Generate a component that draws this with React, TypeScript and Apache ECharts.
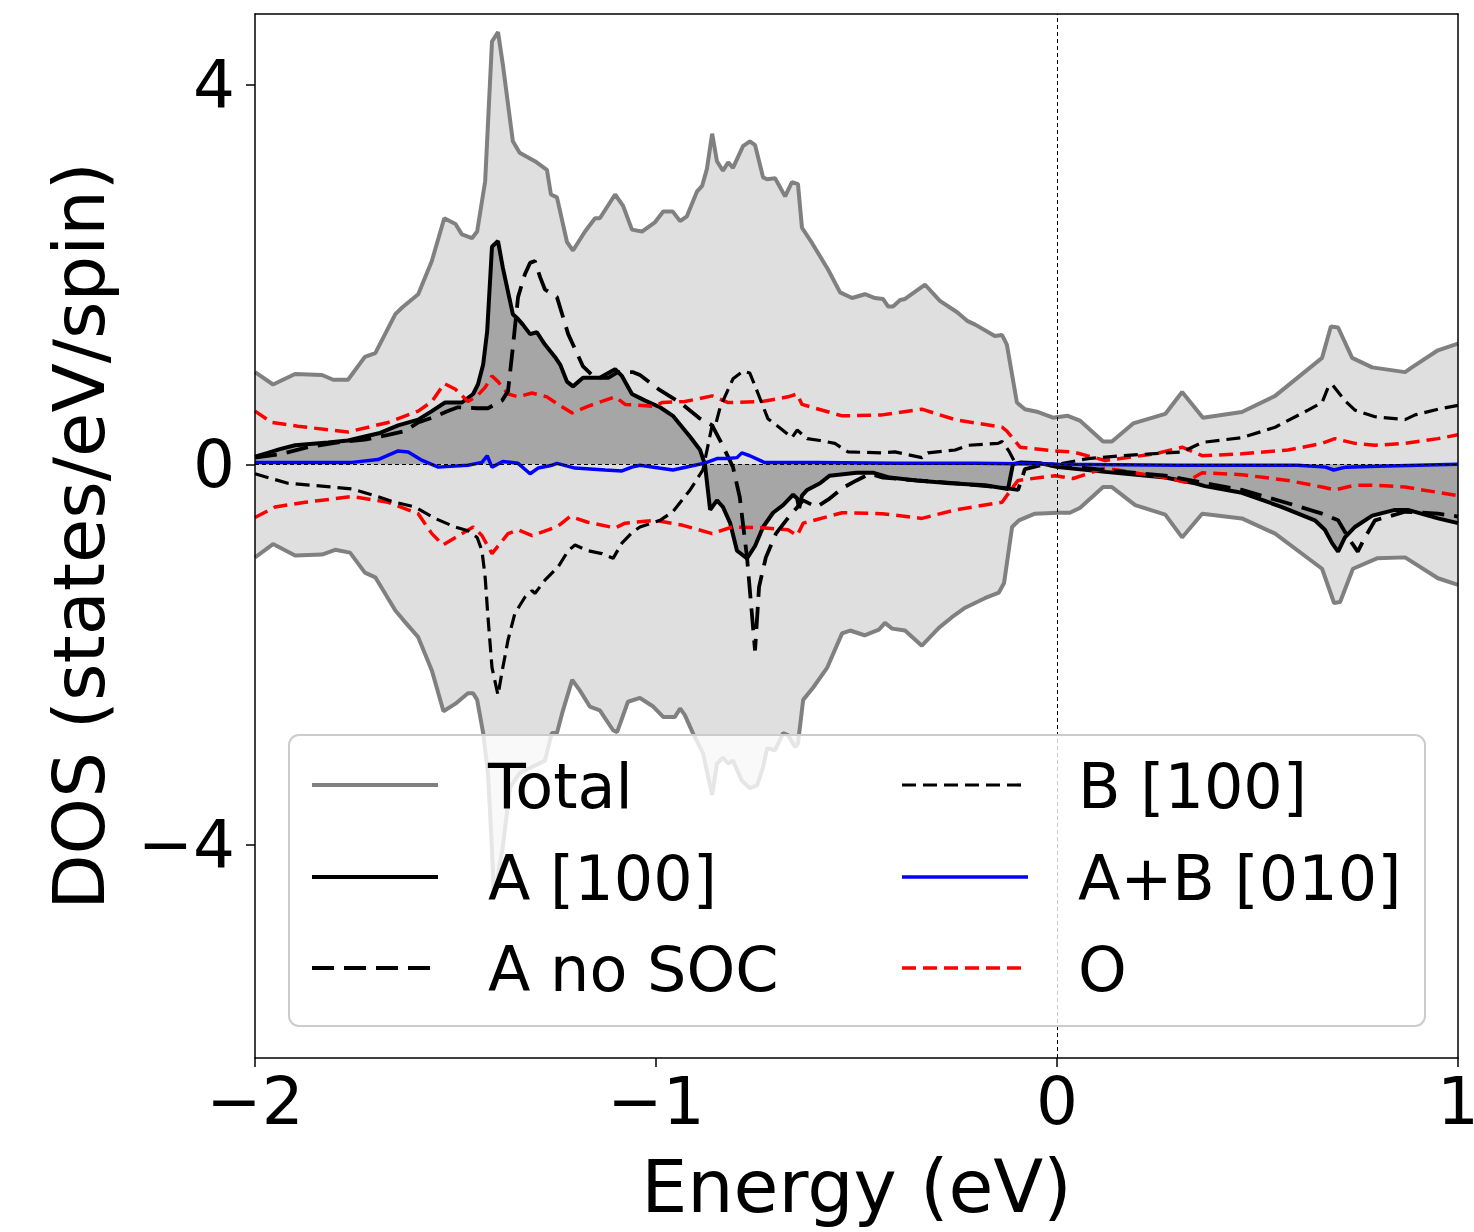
import React, { useEffect, useRef } from "react";
import * as echarts from "echarts";

// [energy (eV), DOS (states/eV/spin)]
const totalUp: [number, number][] = [
  [-2.0, 0.97], [-1.955, 0.84], [-1.9, 0.95], [-1.833, 0.94], [-1.805, 0.89], [-1.768, 0.89], [-1.726, 1.13], [-1.7, 1.17],
  [-1.65, 1.58], [-1.633, 1.65], [-1.593, 1.79], [-1.559, 2.14], [-1.528, 2.59], [-1.5, 2.53], [-1.484, 2.42], [-1.459, 2.38],
  [-1.446, 2.45], [-1.426, 2.98], [-1.409, 4.45], [-1.394, 4.55], [-1.382, 4.21], [-1.357, 3.4], [-1.34, 3.28], [-1.302, 3.19],
  [-1.272, 3.1], [-1.262, 2.84], [-1.247, 2.81], [-1.222, 2.34], [-1.207, 2.25], [-1.177, 2.45], [-1.152, 2.59], [-1.14, 2.59],
  [-1.102, 2.84], [-1.082, 2.72], [-1.06, 2.47], [-1.035, 2.45], [-1.002, 2.55], [-0.982, 2.66], [-0.958, 2.66], [-0.94, 2.56],
  [-0.923, 2.61], [-0.898, 2.87], [-0.885, 2.93], [-0.873, 3.11], [-0.86, 3.48], [-0.848, 3.19], [-0.833, 3.09], [-0.82, 3.18],
  [-0.808, 3.12], [-0.783, 3.35], [-0.766, 3.4], [-0.753, 3.36], [-0.733, 3.02], [-0.723, 3.0], [-0.703, 3.01], [-0.678, 2.82],
  [-0.661, 2.97], [-0.646, 2.95], [-0.636, 2.49], [-0.611, 2.33], [-0.571, 2.05], [-0.541, 1.81], [-0.511, 1.75], [-0.479, 1.79],
  [-0.454, 1.75], [-0.434, 1.74], [-0.421, 1.66], [-0.409, 1.66], [-0.391, 1.73], [-0.379, 1.74], [-0.329, 1.89], [-0.292, 1.72],
  [-0.249, 1.6], [-0.224, 1.51], [-0.204, 1.47], [-0.155, 1.35], [-0.137, 1.36], [-0.125, 1.26], [-0.1, 0.65], [-0.08, 0.58],
  [-0.047, 0.55], [-0.01, 0.49], [0.027, 0.51], [0.057, 0.46], [0.115, 0.24], [0.137, 0.24], [0.19, 0.43], [0.27, 0.53],
  [0.312, 0.76], [0.364, 0.49], [0.461, 0.55], [0.544, 0.72], [0.661, 1.12], [0.683, 1.45], [0.701, 1.44], [0.736, 1.12],
  [0.786, 1.02], [0.868, 0.97], [0.885, 1.02], [0.95, 1.2], [1.0, 1.27],
];

const totalDown: [number, number][] = [
  [-2.0, -0.98], [-1.955, -0.84], [-1.9, -0.96], [-1.833, -0.95], [-1.8, -0.9], [-1.763, -0.93], [-1.726, -1.14], [-1.7, -1.19],
  [-1.65, -1.54], [-1.63, -1.64], [-1.593, -1.82], [-1.559, -2.17], [-1.53, -2.6], [-1.5, -2.52], [-1.469, -2.41], [-1.456, -2.41],
  [-1.446, -2.48], [-1.431, -2.83], [-1.419, -3.25], [-1.409, -4.06], [-1.404, -4.56], [-1.382, -4.03], [-1.364, -3.4], [-1.34, -3.25],
  [-1.277, -3.12], [-1.26, -2.83], [-1.247, -2.83], [-1.234, -2.62], [-1.209, -2.27], [-1.19, -2.38], [-1.165, -2.55], [-1.14, -2.59],
  [-1.107, -2.8], [-1.097, -2.82], [-1.07, -2.5], [-1.04, -2.46], [-1.007, -2.55], [-0.982, -2.66], [-0.953, -2.66], [-0.94, -2.57],
  [-0.928, -2.64], [-0.908, -2.83], [-0.883, -3.04], [-0.86, -3.48], [-0.848, -3.15], [-0.833, -3.09], [-0.82, -3.15], [-0.808, -3.12],
  [-0.786, -3.33], [-0.766, -3.41], [-0.748, -3.38], [-0.733, -3.19], [-0.723, -2.99], [-0.703, -3.01], [-0.683, -2.83], [-0.671, -2.85],
  [-0.653, -2.98], [-0.646, -2.94], [-0.633, -2.48], [-0.608, -2.35], [-0.573, -2.14], [-0.536, -1.78], [-0.516, -1.75], [-0.48, -1.8],
  [-0.444, -1.74], [-0.429, -1.67], [-0.411, -1.73], [-0.379, -1.75], [-0.337, -1.91], [-0.294, -1.72], [-0.262, -1.61], [-0.229, -1.51],
  [-0.18, -1.41], [-0.145, -1.35], [-0.132, -1.25], [-0.112, -0.66], [-0.095, -0.59], [-0.055, -0.52], [0.002, -0.51], [0.032, -0.51],
  [0.057, -0.46], [0.115, -0.24], [0.137, -0.24], [0.195, -0.43], [0.27, -0.53], [0.312, -0.77], [0.362, -0.52], [0.461, -0.57],
  [0.544, -0.73], [0.661, -1.1], [0.691, -1.46], [0.706, -1.45], [0.738, -1.1], [0.798, -0.99], [0.868, -0.98], [0.95, -1.2], [1.0, -1.27],
];

const aSoc100: [number, number][] = [
  [-2.0, 0.08], [-1.968, 0.12], [-1.938, 0.16], [-1.9, 0.2], [-1.818, 0.23], [-1.768, 0.25], [-1.718, 0.3], [-1.688, 0.33],
  [-1.643, 0.41], [-1.593, 0.47], [-1.559, 0.56], [-1.526, 0.65], [-1.484, 0.65], [-1.456, 0.74], [-1.444, 0.84], [-1.431, 1.05],
  [-1.421, 1.4], [-1.409, 2.29], [-1.394, 2.35], [-1.382, 2.07], [-1.357, 1.58], [-1.344, 1.53], [-1.332, 1.47], [-1.314, 1.37],
  [-1.297, 1.39], [-1.277, 1.26], [-1.252, 1.13], [-1.239, 1.05], [-1.222, 0.87], [-1.207, 0.82], [-1.182, 0.91], [-1.14, 0.91],
  [-1.102, 1.0], [-1.085, 0.93], [-1.06, 0.74], [-1.027, 0.67], [-0.99, 0.6], [-0.958, 0.51], [-0.915, 0.29], [-0.89, 0.15],
  [-0.878, 0.0], [-0.865, -0.48], [-0.848, -0.38], [-0.833, -0.45], [-0.815, -0.62], [-0.798, -0.91], [-0.773, -0.99], [-0.753, -0.86],
  [-0.733, -0.66], [-0.708, -0.51], [-0.683, -0.43], [-0.658, -0.32], [-0.648, -0.36], [-0.643, -0.46], [-0.636, -0.33], [-0.623, -0.27],
  [-0.591, -0.2], [-0.567, -0.12], [-0.5, -0.09], [-0.457, -0.09], [-0.417, -0.14], [-0.35, -0.17], [-0.267, -0.2], [-0.18, -0.22],
  [-0.137, -0.25], [-0.122, -0.26], [-0.11, 0.0], [-0.09, 0.02], [-0.04, 0.01], [0.002, -0.03], [0.12, -0.08], [0.27, -0.14],
  [0.344, -0.2], [0.369, -0.23], [0.461, -0.3], [0.561, -0.45], [0.643, -0.59], [0.668, -0.69], [0.686, -0.83], [0.701, -0.92],
  [0.718, -0.77], [0.743, -0.66], [0.786, -0.54], [0.843, -0.48], [0.875, -0.48], [0.95, -0.57], [1.0, -0.62],
];

const aNoSoc: [number, number][] = [
  [-2.0, 0.07], [-1.933, 0.11], [-1.868, 0.18], [-1.793, 0.23], [-1.726, 0.26], [-1.668, 0.31], [-1.626, 0.35], [-1.593, 0.44],
  [-1.559, 0.49], [-1.519, 0.56], [-1.494, 0.6], [-1.446, 0.59], [-1.419, 0.59], [-1.384, 0.67], [-1.369, 0.77], [-1.357, 1.23],
  [-1.344, 1.76], [-1.327, 2.0], [-1.314, 2.12], [-1.302, 2.14], [-1.289, 1.97], [-1.277, 1.84], [-1.247, 1.76], [-1.219, 1.37],
  [-1.182, 1.03], [-1.152, 0.91], [-1.119, 0.91], [-1.095, 0.97], [-1.057, 0.97], [-1.04, 0.94], [-0.99, 0.78], [-0.94, 0.65],
  [-0.89, 0.48], [-0.86, 0.41], [-0.84, 0.25], [-0.808, -0.03], [-0.791, -0.35], [-0.773, -0.98], [-0.753, -1.96], [-0.743, -1.29],
  [-0.726, -0.98], [-0.701, -0.73], [-0.668, -0.55], [-0.633, -0.38], [-0.6, -0.45], [-0.57, -0.37], [-0.535, -0.25], [-0.5, -0.17],
  [-0.467, -0.1], [-0.434, -0.14], [-0.35, -0.17], [-0.25, -0.2], [-0.15, -0.24], [-0.097, -0.27], [-0.08, -0.05], [-0.04, -0.01],
  [0.002, -0.01], [0.12, -0.06], [0.27, -0.12], [0.461, -0.27], [0.576, -0.41], [0.661, -0.52], [0.701, -0.59], [0.726, -0.77],
  [0.75, -0.92], [0.768, -0.77], [0.793, -0.59], [0.868, -0.5], [0.95, -0.52], [1.0, -0.55],
];

const b100: [number, number][] = [
  [-2.0, -0.1], [-1.918, -0.2], [-1.833, -0.23], [-1.758, -0.26], [-1.701, -0.33], [-1.651, -0.4], [-1.601, -0.45], [-1.551, -0.57],
  [-1.501, -0.66], [-1.469, -0.7], [-1.446, -0.77], [-1.434, -0.91], [-1.426, -1.19], [-1.419, -1.61], [-1.409, -2.14], [-1.394, -2.43],
  [-1.382, -2.14], [-1.369, -1.85], [-1.352, -1.57], [-1.327, -1.4], [-1.309, -1.33], [-1.302, -1.36], [-1.277, -1.22], [-1.244, -1.08],
  [-1.219, -0.91], [-1.202, -0.85], [-1.17, -0.91], [-1.135, -0.94], [-1.107, -0.99], [-1.085, -0.83], [-1.06, -0.72], [-1.04, -0.66],
  [-0.99, -0.59], [-0.958, -0.5], [-0.915, -0.27], [-0.883, -0.06], [-0.86, 0.41], [-0.853, 0.39], [-0.84, 0.6], [-0.808, 0.9],
  [-0.783, 0.98], [-0.766, 0.96], [-0.746, 0.75], [-0.721, 0.48], [-0.69, 0.38], [-0.661, 0.28], [-0.648, 0.36], [-0.623, 0.27],
  [-0.591, 0.25], [-0.554, 0.22], [-0.521, 0.13], [-0.436, 0.12], [-0.404, 0.13], [-0.337, 0.07], [-0.322, 0.12], [-0.254, 0.15],
  [-0.222, 0.2], [-0.147, 0.22], [-0.137, 0.24], [-0.12, 0.14], [-0.105, 0.02], [-0.05, 0.01], [0.002, 0.0], [0.077, 0.06],
  [0.162, 0.09], [0.27, 0.12], [0.312, 0.13], [0.362, 0.23], [0.461, 0.28], [0.544, 0.39], [0.626, 0.57], [0.661, 0.65],
  [0.678, 0.83], [0.688, 0.83], [0.718, 0.67], [0.743, 0.57], [0.793, 0.5], [0.868, 0.47], [0.893, 0.52], [0.95, 0.58], [1.0, 0.62],
];

const ab010: [number, number][] = [
  [-2.0, 0.02], [-1.833, 0.02], [-1.758, 0.02], [-1.693, 0.05], [-1.643, 0.14], [-1.618, 0.13], [-1.583, 0.04], [-1.543, -0.03],
  [-1.469, -0.01], [-1.434, 0.02], [-1.421, 0.09], [-1.409, -0.03], [-1.382, 0.03], [-1.344, 0.01], [-1.314, -0.1], [-1.294, -0.04],
  [-1.259, -0.01], [-1.247, 0.01], [-1.202, -0.04], [-1.127, -0.06], [-1.085, -0.07], [-1.06, -0.03], [-1.04, -0.01], [-0.958, -0.06],
  [-0.88, 0.01], [-0.848, 0.06], [-0.823, 0.06], [-0.798, 0.07], [-0.786, 0.12], [-0.766, 0.09], [-0.73, 0.02], [-0.6, 0.02],
  [-0.4, 0.01], [-0.2, 0.01], [0.0, 0.0], [0.3, -0.01], [0.6, -0.01], [0.67, -0.03], [0.69, -0.06], [0.72, -0.03], [0.8, -0.02], [1.0, 0.0],
];

const oUp: [number, number][] = [
  [-2.0, 0.56], [-1.958, 0.44], [-1.893, 0.4], [-1.768, 0.34], [-1.668, 0.44], [-1.593, 0.56], [-1.559, 0.66], [-1.528, 0.85],
  [-1.5, 0.79], [-1.469, 0.66], [-1.446, 0.72], [-1.426, 0.81], [-1.409, 0.93], [-1.394, 0.87], [-1.369, 0.74], [-1.344, 0.71],
  [-1.309, 0.75], [-1.272, 0.71], [-1.244, 0.63], [-1.209, 0.54], [-1.17, 0.61], [-1.102, 0.71], [-1.077, 0.63], [-1.002, 0.61],
  [-0.985, 0.65], [-0.928, 0.66], [-0.86, 0.72], [-0.82, 0.65], [-0.736, 0.66], [-0.671, 0.71], [-0.648, 0.74], [-0.636, 0.63],
  [-0.536, 0.51], [-0.436, 0.52], [-0.337, 0.58], [-0.254, 0.47], [-0.137, 0.39], [-0.125, 0.35], [-0.092, 0.18], [-0.005, 0.14],
  [0.04, 0.13], [0.12, 0.04], [0.245, 0.11], [0.312, 0.18], [0.362, 0.09], [0.461, 0.11], [0.576, 0.15], [0.661, 0.22],
  [0.693, 0.27], [0.743, 0.22], [0.793, 0.2], [0.868, 0.22], [0.95, 0.27], [1.0, 0.31],
];

const oDown: [number, number][] = [
  [-2.0, -0.56], [-1.95, -0.45], [-1.875, -0.4], [-1.758, -0.34], [-1.668, -0.4], [-1.593, -0.52], [-1.559, -0.73], [-1.531, -0.85],
  [-1.5, -0.77], [-1.456, -0.66], [-1.434, -0.75], [-1.409, -0.94], [-1.369, -0.73], [-1.344, -0.69], [-1.309, -0.75], [-1.269, -0.69],
  [-1.244, -0.65], [-1.214, -0.55], [-1.17, -0.61], [-1.102, -0.67], [-1.077, -0.62], [-1.002, -0.59], [-0.935, -0.64], [-0.86, -0.73],
  [-0.81, -0.66], [-0.728, -0.67], [-0.671, -0.69], [-0.648, -0.75], [-0.633, -0.62], [-0.536, -0.51], [-0.436, -0.52], [-0.337, -0.57],
  [-0.254, -0.48], [-0.137, -0.4], [-0.11, -0.24], [-0.097, -0.17], [-0.005, -0.12], [0.04, -0.15], [0.12, -0.04], [0.27, -0.14],
  [0.32, -0.19], [0.362, -0.09], [0.461, -0.11], [0.576, -0.17], [0.661, -0.24], [0.693, -0.27], [0.743, -0.22], [0.793, -0.22],
  [0.868, -0.24], [1.0, -0.33],
];

const xTicks = [-2, -1, 0, 1];
const yTicks = [-4, 0, 4];

const legendCol1 = ["Total", "A [100]", "A no SOC"];
const legendCol2 = ["B [100]", "A+B [010]", "O"];

const FONT = "DejaVu Sans";
const fmt = (v: number) => (v < 0 ? "\u2212" + Math.abs(v) : String(v));

const STYLES: Record<string, { color: string; width: number; dash: any }> = {
  Total: { color: "#808080", width: 4, dash: "solid" },
  "A [100]": { color: "#000000", width: 4, dash: "solid" },
  "A no SOC": { color: "#000000", width: 3.8, dash: [22, 10] },
  "B [100]": { color: "#000000", width: 3.2, dash: [14, 7] },
  "A+B [010]": { color: "#0000ff", width: 3.5, dash: "solid" },
  O: { color: "#ff0000", width: 3.5, dash: [14, 7] },
};

export default function App() {
  const ref = useRef<HTMLDivElement>(null);
  useEffect(() => {
    const chart = echarts.init(ref.current!, null, { renderer: "svg" });
    const mk = (name: string, data: [number, number][], z: number, extra: any = {}) => {
      const s = STYLES[name];
      return {
        type: "line",
        name,
        data,
        z,
        symbol: "none",
        showSymbol: false,
        silent: true,
        lineStyle: { color: s.color, width: s.width, type: s.dash },
        itemStyle: { color: s.color },
        ...extra,
      };
    };

    const legendEls: any[] = [
      {
        type: "rect",
        z: 100,
        shape: { x: 289, y: 735, width: 1136, height: 291, r: 10 },
        style: { fill: "rgba(255,255,255,0.8)", stroke: "#cccccc", lineWidth: 2 },
      },
    ];
    const rowsY = [785, 877, 968];
    const addCol = (names: string[], x0: number) => {
      names.forEach((n, i) => {
        const s = STYLES[n];
        legendEls.push({
          type: "line",
          z: 101,
          shape: { x1: x0, y1: rowsY[i], x2: x0 + 126, y2: rowsY[i] },
          style: {
            stroke: s.color,
            lineWidth: s.width,
            lineDash: Array.isArray(s.dash) ? s.dash : null,
          },
        });
        legendEls.push({
          type: "text",
          z: 101,
          x: x0 + 176,
          y: rowsY[i] + 1,
          style: {
            text: n,
            fill: "#000",
            font: `62px "${FONT}"`,
            textVerticalAlign: "middle",
            textAlign: "left",
          },
        });
      });
    };
    addCol(legendCol1, 312);
    addCol(legendCol2, 902);

    const axisLineStyle = { color: "#000", width: 1.5 };

    chart.setOption({
      animation: false,
      backgroundColor: "#ffffff",
      textStyle: { fontFamily: FONT },
      grid: {
        left: 255,
        top: 14,
        width: 1203,
        height: 1044,
        containLabel: false,
        outerBoundsMode: "none",
      },
      xAxis: [
        {
          type: "value",
          min: xTicks[0],
          max: xTicks[xTicks.length - 1],
          interval: 1,
          position: "bottom",
          z: 10,
          axisLine: { show: true, onZero: false, lineStyle: axisLineStyle },
          axisTick: { show: true, inside: false, length: 9, lineStyle: axisLineStyle },
          axisLabel: { fontSize: 66, fontFamily: FONT, color: "#000", margin: 10, formatter: fmt },
          splitLine: { show: false },
          name: "Energy (eV)",
          nameLocation: "middle",
          nameGap: 92,
          nameTextStyle: { fontSize: 73, fontFamily: FONT, color: "#000" },
        },
        {
          type: "value",
          min: xTicks[0],
          max: xTicks[xTicks.length - 1],
          position: "top",
          z: 10,
          axisLine: { show: true, onZero: false, lineStyle: axisLineStyle },
          axisTick: { show: false },
          axisLabel: { show: false },
          splitLine: { show: false },
        },
      ],
      yAxis: [
        {
          type: "value",
          min: -6.25,
          max: 4.74,
          position: "left",
          z: 10,
          axisLine: { show: true, onZero: false, lineStyle: axisLineStyle },
          axisTick: { show: true, inside: false, length: 9, lineStyle: axisLineStyle, customValues: yTicks },
          axisLabel: { fontSize: 66, fontFamily: FONT, color: "#000", margin: 20, formatter: fmt, customValues: yTicks },
          splitLine: { show: false },
          name: "DOS (states/eV/spin)",
          nameLocation: "middle",
          nameRotate: 90,
          nameGap: 140,
          nameTextStyle: { fontSize: 72, fontFamily: FONT, color: "#000" },
        },
        {
          type: "value",
          min: -6.25,
          max: 4.74,
          position: "right",
          z: 10,
          axisLine: { show: true, onZero: false, lineStyle: axisLineStyle },
          axisTick: { show: false },
          axisLabel: { show: false },
          splitLine: { show: false },
        },
      ],
      series: [
        mk("Total", totalUp, 1, { areaStyle: { color: "#dfdfdf", opacity: 1 } }),
        mk("Total", totalDown, 1, { areaStyle: { color: "#dfdfdf", opacity: 1 } }),
        mk("A [100]", aSoc100, 2, { areaStyle: { color: "#a6a6a6", opacity: 1 } }),
        mk("O", oUp, 3),
        mk("O", oDown, 3),
        mk("A no SOC", aNoSoc, 3),
        mk("B [100]", b100, 3),
        mk("A+B [010]", ab010, 4, {
          markLine: {
            silent: true,
            symbol: ["none", "none"],
            label: { show: false },
            lineStyle: { color: "#000", width: 1, type: [4, 3] },
            data: [{ xAxis: 0 }, { yAxis: 0 }],
          },
        }),
      ],
      graphic: { elements: legendEls },
    });
    return () => chart.dispose();
  }, []);
  return (
    <div
      ref={ref}
      style={{ position: "absolute", left: 0, top: 0, width: 1474, height: 1232 }}
    />
  );
}
